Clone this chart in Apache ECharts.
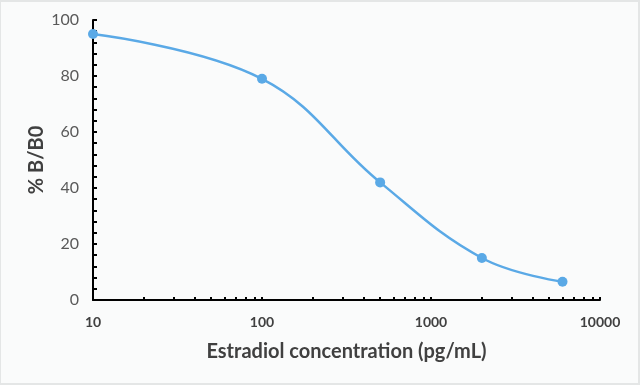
<!DOCTYPE html>
<html>
<head>
<meta charset="utf-8">
<script src="https://cdn.jsdelivr.net/npm/echarts@6/dist/echarts.min.js"></script>
<style>
html,body{margin:0;padding:0;background:#fafbfb;}
#wrap{position:relative;width:640px;height:385px;}
#c{width:640px;height:385px;}
#frame{position:absolute;left:0;top:0;width:640px;height:385px;box-sizing:border-box;border:2px solid #e4e6e6;border-left-width:1px;pointer-events:none;}
</style>
</head>
<body>
<div id="wrap"><div id="c"></div><div id="frame"></div></div>
<script>
const concentrations = [10, 100, 500, 2000, 6000];
const percentB = [95, 79, 42, 15, 6.5];
const xTickValues = [10,20,30,40,50,60,70,80,90,100,200,300,400,500,600,700,800,900,1000,2000,3000,4000,5000,6000,7000,8000,9000,10000];
const xLabelValues = [10, 100, 1000, 10000];

const chart = echarts.init(document.getElementById('c'), null, {renderer: 'canvas'});
chart.setOption({
  backgroundColor: '#fafbfb',
  animation: false,
  grid: {left: 93, right: 40, top: 20, bottom: 85, containLabel: false},
  xAxis: {
    type: 'log',
    logBase: 10,
    min: 10,
    max: 10000,
    name: 'Estradiol concentration (pg/mL)',
    nameLocation: 'middle',
    nameGap: 42,
    nameTextStyle: {fontFamily: 'Lato', fontWeight: 'bold', fontSize: 20, color: '#404040'},
    axisLine: {lineStyle: {color: '#000', width: 2}},
    axisTick: {show: true, inside: true, length: 3, customValues: xTickValues, lineStyle: {color: '#000', width: 2}},
    axisLabel: {customValues: xLabelValues, margin: 15, fontFamily: 'Lato', fontWeight: 'bold', fontSize: 14, color: '#404040',
      formatter: v => String(Math.round(v))},
    splitLine: {show: false},
    minorTick: {show: false}
  },
  yAxis: {
    type: 'value',
    min: 0,
    max: 100,
    interval: 20,
    name: '% B/B0',
    nameLocation: 'middle',
    nameGap: 46,
    nameMoveOverlap: false,
    nameRotate: 90,
    nameTextStyle: {fontFamily: 'Lato', fontWeight: 'bold', fontSize: 20, color: '#404040'},
    axisLine: {show: true, lineStyle: {color: '#000', width: 2}},
    axisTick: {show: true, inside: true, length: 4, lineStyle: {color: '#000', width: 2}},
    minorTick: {show: true, splitNumber: 5, length: 4, lineStyle: {color: '#000', width: 2}},
    axisLabel: {margin: 14, fontFamily: 'Lato', fontSize: 16, color: '#595959'},
    splitLine: {show: false}
  },
  series: [{
    type: 'line',
    data: concentrations.map((c, i) => [c, percentB[i]]),
    smooth: 0.4,
    symbol: 'circle',
    symbolSize: 10,
    itemStyle: {color: '#5aa9e6'},
    lineStyle: {color: '#5aa9e6', width: 2.5}
  }]
});
</script>
</body>
</html>
